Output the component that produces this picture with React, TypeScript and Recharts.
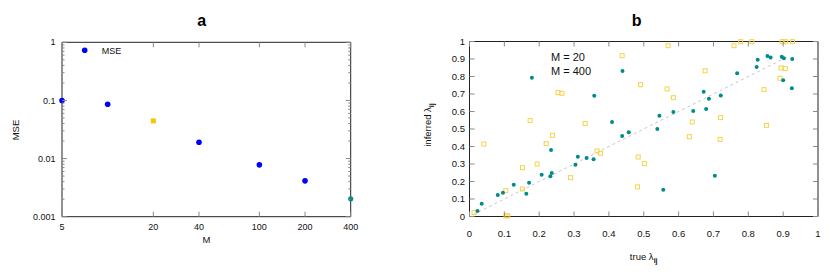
import React from 'react';
import { ScatterChart, Scatter, XAxis, YAxis, ReferenceArea, ReferenceLine } from 'recharts';

const FONT = '"Liberation Sans", Arial, Helvetica, sans-serif';

// ---------- Panel a data ----------
const aBlueM = [5, 10, 40, 100, 200];
const aBlueMSE = [0.1, 0.086, 0.0191, 0.0078, 0.00414];
const aGoldM = [20];
const aGoldMSE = [0.0445];
const aTealM = [400];
const aTealMSE = [0.00203];
const aXTicks = [5, 20, 40, 100, 200, 400];
const aYMajor = [0.001, 0.01, 0.1, 1];
const aYMinor = [
  0.002, 0.003, 0.004, 0.005, 0.006, 0.007, 0.008, 0.009,
  0.02, 0.03, 0.04, 0.05, 0.06, 0.07, 0.08, 0.09,
  0.2, 0.3, 0.4, 0.5, 0.6, 0.7, 0.8, 0.9,
];
const aYTickLabels = ['0.001', '0.01', '0.1', '1'];

// ---------- Panel b data ----------
const bTrue400 = [
  0.023, 0.035, 0.081, 0.096, 0.127, 0.163, 0.171, 0.179, 0.207, 0.232, 0.234, 0.236,
  0.304, 0.311, 0.336, 0.356, 0.358, 0.409, 0.438, 0.439, 0.457, 0.539, 0.545, 0.556,
  0.585, 0.642, 0.672, 0.679, 0.687, 0.704, 0.721, 0.768, 0.824, 0.827, 0.855, 0.864,
  0.896, 0.902, 0.9, 0.926, 0.925,
];
const bInferred400 = [
  0.031, 0.073, 0.123, 0.136, 0.182, 0.13, 0.193, 0.793, 0.239, 0.23, 0.38, 0.249,
  0.296, 0.342, 0.334, 0.327, 0.69, 0.54, 0.46, 0.831, 0.481, 0.5, 0.576, 0.153,
  0.597, 0.603, 0.713, 0.614, 0.673, 0.233, 0.692, 0.818, 0.854, 0.896, 0.917, 0.908,
  0.913, 0.904, 0.778, 0.9, 0.733,
];
const bTrue20 = [
  0.013, 0.041, 0.104, 0.105, 0.11, 0.152, 0.152, 0.174, 0.194, 0.22, 0.238, 0.254,
  0.265, 0.29, 0.332, 0.366, 0.376, 0.438, 0.482, 0.484, 0.491, 0.502, 0.57, 0.567,
  0.585, 0.631, 0.639, 0.676, 0.72, 0.719, 0.759, 0.778, 0.81, 0.845, 0.852, 0.891,
  0.894, 0.897, 0.906, 0.907, 0.927,
];
const bInferred20 = [
  0.022, 0.414, 0.148, 0.004, 0.004, 0.279, 0.157, 0.548, 0.3, 0.416, 0.464, 0.708,
  0.704, 0.222, 0.531, 0.374, 0.361, 0.919, 0.169, 0.34, 0.753, 0.302, 0.976, 0.729,
  0.679, 0.456, 0.54, 0.833, 0.565, 0.441, 0.976, 0.999, 0.999, 0.725, 0.521, 0.79,
  0.849, 0.999, 0.845, 0.999, 0.999,
];
const bDiagonal = [0.01, 0.91];
const bTicks = [0, 0.1, 0.2, 0.3, 0.4, 0.5, 0.6, 0.7, 0.8, 0.9, 1];
const bTickLabels = ['0', '0.1', '0.2', '0.3', '0.4', '0.5', '0.6', '0.7', '0.8', '0.9', '1'];

const zip = (xs: number[], ys: number[]) => xs.map((x, i) => ({ x, y: ys[i] }));

const aBlue = zip(aBlueM, aBlueMSE);
const aGold = zip(aGoldM, aGoldMSE);
const aTeal = zip(aTealM, aTealMSE);
const b400 = zip(bTrue400, bInferred400);
const b20 = zip(bTrue20, bInferred20);

const TICK_COLOR = '#8a8a8a';
const FRAME = '#222';
const BLUE = '#0000ff';
const GOLD = '#f7c600';
const TEAL = '#008b8b';
const YELLOW = '#f5d34a';

const aYAll = [...aYMajor, ...aYMinor];
const isMajorA = (v: number) => aYMajor.some((m) => Math.abs(m - v) / m < 1e-6);

const leftTick = (labels: string[] | null, values: number[], gap: number, fs: number, majorFn: (v: number) => boolean) =>
  (p: any) => {
    const v = p.payload.value;
    const major = majorFn(v);
    const idx = values.findIndex((t) => Math.abs(t - v) < 1e-9);
    return (
      <g>
        <line x1={p.x} x2={p.x + (major ? 5 : 2.5)} y1={p.y} y2={p.y} stroke={TICK_COLOR} strokeWidth={1} />
        {labels && major && idx >= 0 ? (
          <text x={p.x - gap} y={p.y} dy="0.35em" textAnchor="end" fontSize={fs} fontFamily={FONT} fill="#111">
            {labels[idx]}
          </text>
        ) : null}
      </g>
    );
  };

const rightTick = (majorFn: (v: number) => boolean) => (p: any) => {
  const major = majorFn(p.payload.value);
  return <line x1={p.x} x2={p.x - (major ? 5 : 2.5)} y1={p.y} y2={p.y} stroke={TICK_COLOR} strokeWidth={1} />;
};

const bottomTick = (labels: string[], values: number[], dy: number, fs: number) => (p: any) => {
  const v = p.payload.value;
  const idx = values.findIndex((t) => Math.abs(t - v) < 1e-9);
  return (
    <g>
      <line x1={p.x} x2={p.x} y1={p.y} y2={p.y - 5} stroke={TICK_COLOR} strokeWidth={1} />
      <text x={p.x} y={p.y + dy} textAnchor="middle" fontSize={fs} fontFamily={FONT} fill="#111">
        {labels[idx]}
      </text>
    </g>
  );
};

const topTick = (p: any) => (
  <line x1={p.x} x2={p.x} y1={p.y} y2={p.y + 5} stroke={TICK_COLOR} strokeWidth={1} />
);

const dot = (color: string, r: number) => (p: any) => <circle cx={p.cx} cy={p.cy} r={r} fill={color} />;
const filledSquare = (color: string, s: number) => (p: any) => (
  <rect x={p.cx - s / 2} y={p.cy - s / 2} width={s} height={s} fill={color} />
);
const openSquare = (color: string, s: number) => (p: any) => (
  <rect x={p.cx - s / 2} y={p.cy - s / 2} width={s} height={s} fill="none" stroke={color} strokeWidth={1} />
);

const always = () => true;

export default function App() {
  return (
    <div style={{ position: 'absolute', left: 0, top: 0, width: 830, height: 272, background: '#fff', overflow: 'hidden' }}>
      {/* Panel a */}
      <div style={{ position: 'absolute', left: 0, top: 0 }}>
        <ScatterChart width={415} height={272} margin={{ top: 41.3, right: 63.3, bottom: 54.3, left: 0 }}>
          <XAxis
            xAxisId="main"
            dataKey="x"
            type="number"
            scale="log"
            domain={[5, 400]}
            ticks={aXTicks}
            interval={0}
            height={1}
            tickSize={0}
            tickMargin={0}
            axisLine={false}
            tickLine={false}
            tick={bottomTick(aXTicks.map(String), aXTicks, 13, 9)}
          />
          <XAxis
            xAxisId="top"
            dataKey="x"
            type="number"
            scale="log"
            orientation="top"
            domain={[5, 400]}
            ticks={aXTicks}
            interval={0}
            height={1}
            tickSize={0}
            tickMargin={0}
            axisLine={false}
            tickLine={false}
            tick={topTick}
          />
          <YAxis
            yAxisId="main"
            dataKey="y"
            type="number"
            scale="log"
            domain={[0.001, 1]}
            ticks={aYAll}
            interval={0}
            width={62}
            tickSize={0}
            tickMargin={0}
            axisLine={false}
            tickLine={false}
            tick={leftTick(aYTickLabels, aYMajor, 6.5, 9, isMajorA)}
          />
          <YAxis
            yAxisId="right"
            dataKey="y"
            type="number"
            scale="log"
            orientation="right"
            domain={[0.001, 1]}
            ticks={aYAll}
            interval={0}
            width={1}
            tickSize={0}
            tickMargin={0}
            axisLine={false}
            tickLine={false}
            tick={rightTick(isMajorA)}
          />
          <ReferenceArea xAxisId="main" yAxisId="main" x1={5} x2={400} y1={0.001} y2={1} fill="none" stroke={FRAME} strokeWidth={1} ifOverflow="visible" />
          <Scatter xAxisId="top" yAxisId="right" data={aBlue} fill="none" shape={() => <g />} isAnimationActive={false} />
          <Scatter xAxisId="main" yAxisId="main" data={aBlue} shape={dot(BLUE, 2.8)} isAnimationActive={false} />
          <Scatter xAxisId="main" yAxisId="main" data={aGold} shape={filledSquare(GOLD, 5)} isAnimationActive={false} />
          <Scatter xAxisId="main" yAxisId="main" data={aTeal} shape={dot(TEAL, 2.6)} isAnimationActive={false} />
        </ScatterChart>
      </div>

      {/* Panel b */}
      <div style={{ position: 'absolute', left: 415, top: 0 }}>
        <ScatterChart width={415} height={272} margin={{ top: 40.5, right: 11, bottom: 54.5, left: 0 }}>
          <XAxis
            xAxisId="main"
            dataKey="x"
            type="number"
            domain={[0, 1]}
            ticks={bTicks}
            interval={0}
            height={1}
            tickSize={0}
            tickMargin={0}
            axisLine={false}
            tickLine={false}
            tick={bottomTick(bTickLabels, bTicks, 20, 9.5)}
          />
          <XAxis
            xAxisId="top"
            dataKey="x"
            type="number"
            orientation="top"
            domain={[0, 1]}
            ticks={bTicks}
            interval={0}
            height={1}
            tickSize={0}
            tickMargin={0}
            axisLine={false}
            tickLine={false}
            tick={topTick}
          />
          <YAxis
            yAxisId="main"
            dataKey="y"
            type="number"
            domain={[0, 1]}
            ticks={bTicks}
            interval={0}
            width={54.5}
            tickSize={0}
            tickMargin={0}
            axisLine={false}
            tickLine={false}
            tick={leftTick(bTickLabels, bTicks, 4.5, 9.5, always)}
          />
          <YAxis
            yAxisId="right"
            dataKey="y"
            type="number"
            orientation="right"
            domain={[0, 1]}
            ticks={bTicks}
            interval={0}
            width={1}
            tickSize={0}
            tickMargin={0}
            axisLine={false}
            tickLine={false}
            tick={rightTick(always)}
          />
          <ReferenceArea xAxisId="main" yAxisId="main" x1={0} x2={1} y1={0} y2={1} fill="none" stroke={FRAME} strokeWidth={1} ifOverflow="visible" />
          <ReferenceLine
            xAxisId="main"
            yAxisId="main"
            segment={[
              { x: bDiagonal[0], y: bDiagonal[0] },
              { x: bDiagonal[1], y: bDiagonal[1] },
            ]}
            stroke="#c8c8c8"
            strokeWidth={1}
            strokeDasharray="3 3"
          />
          <Scatter xAxisId="top" yAxisId="right" data={b400} fill="none" shape={() => <g />} isAnimationActive={false} />
          <Scatter xAxisId="main" yAxisId="main" data={b20} shape={openSquare(YELLOW, 4)} isAnimationActive={false} />
          <Scatter xAxisId="main" yAxisId="main" data={b400} shape={dot(TEAL, 2)} isAnimationActive={false} />
        </ScatterChart>
      </div>

      {/* Titles, labels, legends */}
      <svg width={830} height={272} style={{ position: 'absolute', left: 0, top: 0, pointerEvents: 'none' }}>
        <text x={201.7} y={20} dy="0.35em" textAnchor="middle" fontSize={16} fontWeight="bold" fontFamily={FONT} fill="#000">a</text>
        <text x={636.7} y={20} dy="0.35em" textAnchor="middle" fontSize={16} fontWeight="bold" fontFamily={FONT} fill="#000">b</text>

        <text x={206.4} y={240} dy="0.35em" textAnchor="middle" fontSize={9.5} fontFamily={FONT} fill="#111">M</text>
        <text x={16} y={130} dy="0.35em" textAnchor="middle" fontSize={9.5} fontFamily={FONT} fill="#111" transform="rotate(-90 16 130)">MSE</text>

        <circle cx={84.7} cy={50.3} r={2.8} fill={BLUE} />
        <text x={101.7} y={50.5} dy="0.35em" fontSize={9} fontFamily={FONT} fill="#111">MSE</text>

        <text x={643.7} y={256.5} dy="0.35em" textAnchor="middle" fontSize={9.5} fontFamily={FONT} fill="#111">
          true λ<tspan fontSize={7} dy={3} fontWeight="bold">ij</tspan>
        </text>
        <text x={428} y={125} dy="0.35em" textAnchor="middle" fontSize={9.5} fontFamily={FONT} fill="#111" transform="rotate(-90 428 125)">
          inferred λ<tspan fontSize={7} dy={3} fontWeight="bold">ij</tspan>
        </text>

        <text x={551} y={56.7} dy="0.35em" fontSize={11} fontFamily={FONT} fill="#111">M = 20</text>
        <text x={551} y={70.7} dy="0.35em" fontSize={11} fontFamily={FONT} fill="#111">M = 400</text>
      </svg>
    </div>
  );
}
